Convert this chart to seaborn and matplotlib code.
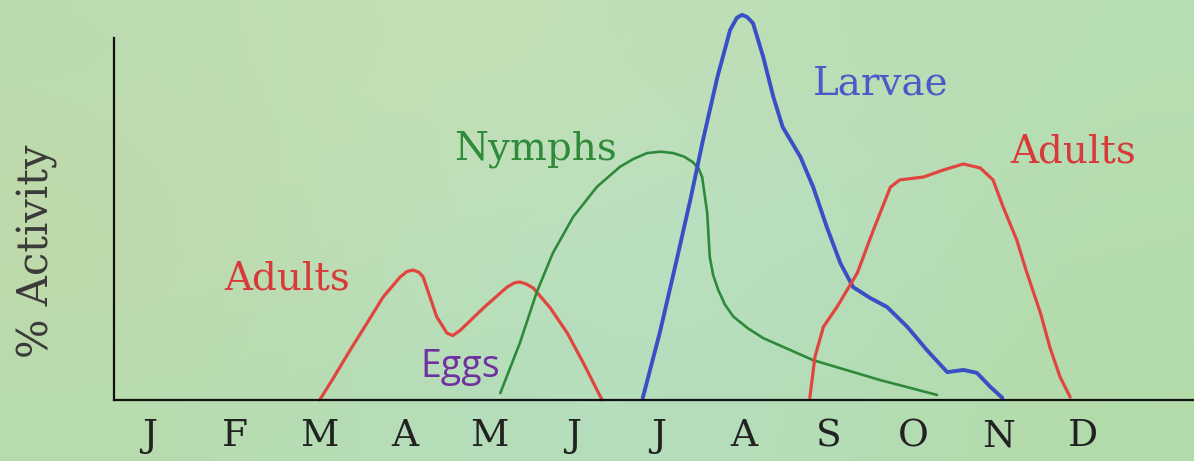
import matplotlib
matplotlib.use("Agg")
import matplotlib.pyplot as plt
import seaborn as sns
import pandas as pd
import numpy as np

# months on the x axis (0 = Jan)
months = ["J", "F", "M", "A", "M", "J", "J", "A", "S", "O", "N", "D"]

# values: month position, % activity
adults_spring_x = [2.00, 2.16, 2.36, 2.56, 2.75, 2.95, 3.03, 3.10, 3.17, 3.22, 3.30, 3.38,
                   3.50, 3.57, 3.66, 3.93, 4.21, 4.30, 4.36, 4.44, 4.52, 4.72, 4.92, 5.11, 5.33]
adults_spring_y = [0, 6, 13.8, 21.3, 28.5, 34, 35.5, 35.9, 35.3, 34, 28.5, 23,
                   18.5, 17.8, 19.3, 25.4, 31.2, 32.4, 32.6, 32.0, 30.9, 25.4, 18.5, 10.2, 0]

nymphs_x = [4.13, 4.36, 4.56, 4.75, 4.99, 5.27, 5.54, 5.70, 5.86, 6.02, 6.17, 6.30, 6.40,
            6.47, 6.51, 6.57, 6.60, 6.64, 6.70, 6.78, 6.88, 7.05, 7.23, 7.82, 8.61, 9.28]
nymphs_y = [1.9, 15.7, 29.8, 40.6, 50.6, 58.9, 64.4, 66.6, 68.2, 68.6, 68.2, 67.2, 65.7,
            63.9, 61.6, 51.7, 39.5, 34.5, 30.4, 26.3, 23, 19.8, 17.1, 11, 5.5, 1.4]

larvae_x = [5.81, 6.01, 6.21, 6.37, 6.52, 6.69, 6.84, 6.92, 6.98, 7.04, 7.11, 7.23,
            7.35, 7.46, 7.67, 7.82, 7.98, 8.14, 8.29, 8.49, 8.69, 8.93,
            9.16, 9.40, 9.59, 9.75, 9.91, 10.05]
larvae_y = [0.6, 18.5, 38.7, 55.2, 71.8, 89.2, 102.2, 105.6, 106.4, 105.8, 104.1, 94.8,
            83.7, 75.4, 67.1, 58.8, 47.8, 37.8, 31.2, 28.2, 25.7, 20.2,
            13.8, 7.7, 8.3, 7.5, 3.6, 0.6]

adults_fall_x = [7.78, 7.84, 7.94, 8.10, 8.34, 8.53, 8.73, 8.84, 9.12, 9.35,
                 9.59, 9.79, 9.94, 10.06, 10.22, 10.34, 10.50, 10.61, 10.73, 10.85]
adults_fall_y = [0.6, 11.9, 20.2, 25.7, 35.1, 47, 58.8, 60.8, 61.6, 63.5,
                 65.2, 64.1, 60.8, 53.3, 44.2, 35.1, 24, 14.6, 6.4, 0.8]

series = {
    "Adults (spring)": (adults_spring_x, adults_spring_y),
    "Nymphs": (nymphs_x, nymphs_y),
    "Larvae": (larvae_x, larvae_y),
    "Adults (fall)": (adults_fall_x, adults_fall_y),
}
rows = []
for name, (xs, ys) in series.items():
    for x, y in zip(xs, ys):
        rows.append({"stage": name, "month": x, "activity": y})
df = pd.DataFrame(rows)

colors = {"Adults (spring)": "#e0463f", "Nymphs": "#2e8a3a",
          "Larvae": "#3a4ec6", "Adults (fall)": "#e0463f"}
widths = {"Adults (spring)": 2.3, "Nymphs": 1.9, "Larvae": 2.8, "Adults (fall)": 2.3}

sns.set_theme(style="white")
plt.rcParams["font.family"] = ["DejaVu Serif", "DejaVu Sans"]

fig = plt.figure(figsize=(11.94, 4.61), dpi=100)

# soft green paper background
bg = fig.add_axes([0, 0, 1, 1], zorder=-10)
grad = np.array([
    [[0.73, 0.86, 0.69], [0.78, 0.88, 0.71], [0.74, 0.87, 0.72], [0.72, 0.87, 0.70]],
    [[0.76, 0.85, 0.66], [0.74, 0.88, 0.74], [0.73, 0.88, 0.78], [0.71, 0.86, 0.68]],
    [[0.72, 0.86, 0.68], [0.71, 0.87, 0.73], [0.71, 0.87, 0.74], [0.70, 0.86, 0.66]],
])
bg.imshow(grad, aspect="auto", interpolation="bicubic", extent=[0, 1, 0, 1])
bg.axis("off")

ax = fig.add_axes([114 / 1194, 61 / 461, 1 - 114 / 1194, 362 / 461])
ax.patch.set_alpha(0)

for name in series:
    sns.lineplot(data=df[df["stage"] == name], x="month", y="activity", sort=False,
                 color=colors[name], linewidth=widths[name], ax=ax,
                 estimator=None, clip_on=False)
for line in ax.get_lines():
    line.set_solid_joinstyle("round")
    line.set_solid_capstyle("round")

ax.set_xlim(-0.425, 12.31)
ax.set_ylim(0, 100)
ax.set_xticks(range(len(months)))
ax.set_xticklabels(months, fontsize=27, color="#222222")
ax.set_yticks([])
ax.tick_params(axis="x", length=0, pad=13)
for s in ["top", "right"]:
    ax.spines[s].set_visible(False)
for s in ["left", "bottom"]:
    ax.spines[s].set_color("#111111")
    ax.spines[s].set_linewidth(1.6)
ax.set_xlabel("")
ax.set_ylabel("% Activity", fontsize=30, color="#3a3a3a")
ax.yaxis.set_label_coords(-0.052, 0.41)

ax.text(1.62, 30.4, "Adults", color="#d83a3a", fontsize=28, ha="center", va="baseline")
ax.text(4.55, 66.3, "Nymphs", color="#2f8a3a", fontsize=28, ha="center", va="baseline")
ax.text(8.61, 84.3, "Larvae", color="#4a5ac8", fontsize=28, ha="center", va="baseline")
ax.text(10.88, 65.7, "Adults", color="#d83a3a", fontsize=28, ha="center", va="baseline")
ax.text(3.66, 6.4, "Eggs", color="#7030a0", fontsize=27, ha="center", va="baseline",
        family=["Open Sans", "DejaVu Sans"])

fig.savefig("out.png", dpi=100)
